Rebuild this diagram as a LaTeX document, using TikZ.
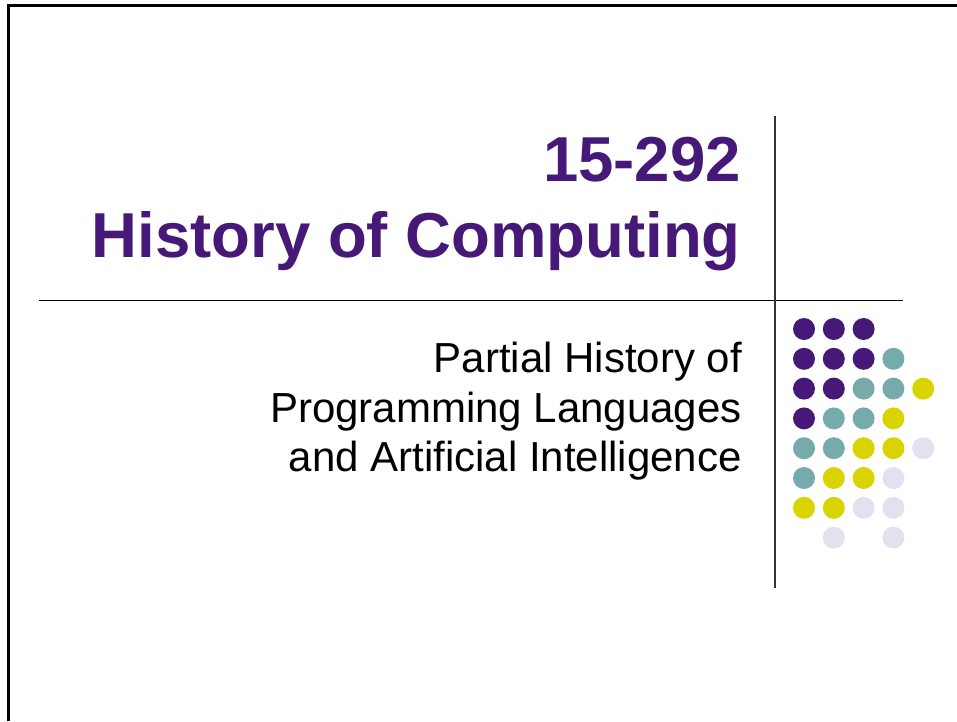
\documentclass[tikz,border=0pt]{standalone}
\usepackage{fontspec}
\setmainfont{Liberation Sans}
\usepackage{xcolor}
\usetikzlibrary{positioning}
\definecolor{titlepurple}{HTML}{461878}
\definecolor{dotp}{HTML}{461878}
\definecolor{dott}{HTML}{77AAAA}
\definecolor{doty}{HTML}{D9D300}
\definecolor{dotl}{HTML}{E1E1F0}
\tikzset{
  titletext/.style={anchor=base east,inner sep=0pt,align=right,text=titlepurple,font=\fontsize{63.5}{76}\selectfont\bfseries},
  subtext/.style={anchor=base east,inner sep=0pt,align=right,font=\fontsize{42}{49.7}\selectfont},
  dot/.style={circle,draw=none,inner sep=0pt,minimum size=22pt},
  rule/.style={line width=1pt},
}

\begin{document}
\begin{tikzpicture}[x=1pt,y=-1pt]
\useasboundingbox (0,0) rectangle (957,721);
% frame, top and left only
\draw[line width=2.7pt] (8.3,721) -- (8.3,5.3) -- (957,5.3);
% rules
\draw[rule] (39,300) -- (903,300);
\draw[line width=1.5pt,black!80] (775,116) -- (775,588);
% base anchor sits on the last line
\node[titletext] (title) at (741,257.3) {15-292\\History of Computing};
\node[subtext] (subtitle) at (742,471.7) {Partial History of\\Programming Languages\\and Artificial Intelligence};
% dot grid, n = empty
\foreach \r/\cols in {0/{p,p,p},1/{p,p,p,t},2/{p,p,t,t,y},3/{p,t,t,y},4/{t,t,y,y,l},5/{t,y,y,l},6/{y,y,l,l},7/{n,l,n,l}} {
  \foreach \k [count=\c from 0] in \cols {
    \if\k n\else
      \node[dot,fill=dot\k] (d\r-\c) at (804+29.8*\c,329+29.8*\r) {};
    \fi
  }
}
\end{tikzpicture}
\end{document}
